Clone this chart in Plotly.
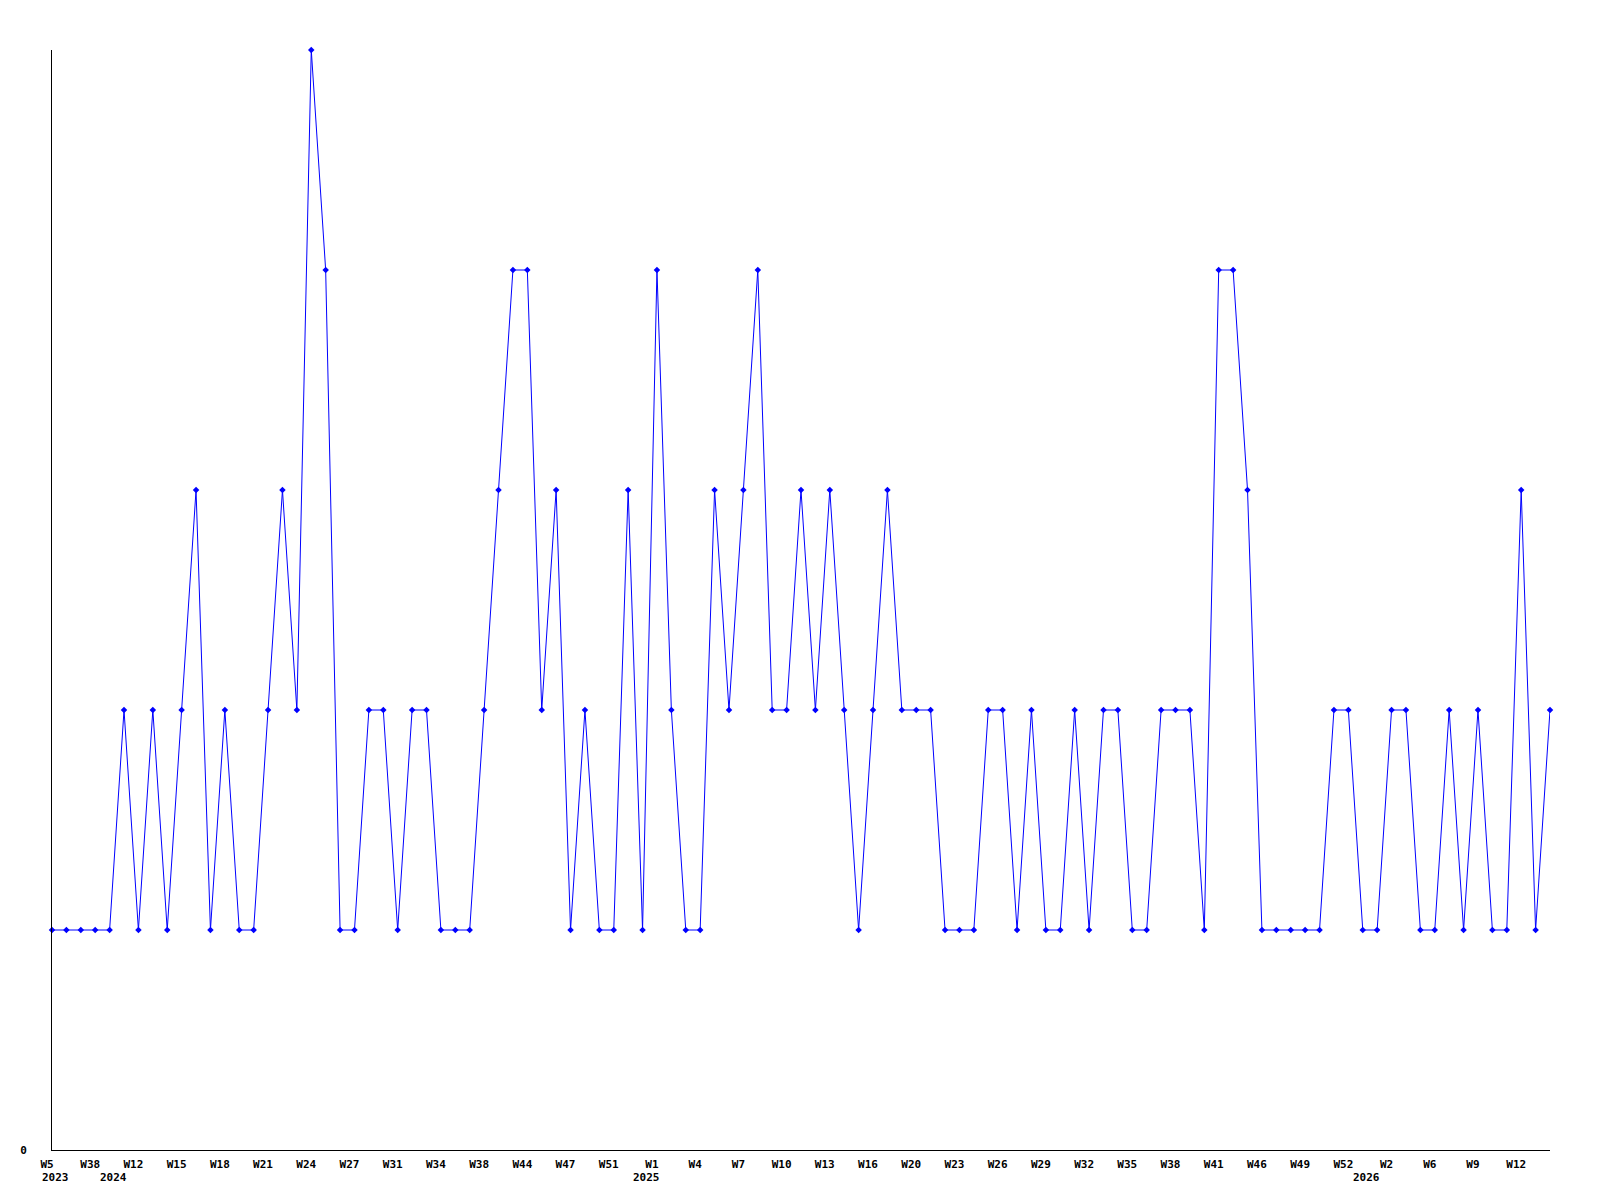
import plotly.graph_objects as go

values = [1, 1, 1, 1, 1, 2, 1, 2, 1, 2,
          3, 1, 2, 1, 1, 2, 3, 2, 5, 4,
          1, 1, 2, 2, 1, 2, 2, 1, 1, 1,
          2, 3, 4, 4, 2, 3, 1, 2, 1, 1,
          3, 1, 4, 2, 1, 1, 3, 2, 3, 4,
          2, 2, 3, 2, 3, 2, 1, 2, 3, 2,
          2, 2, 1, 1, 1, 2, 2, 1, 2, 1,
          1, 2, 1, 2, 2, 1, 1, 2, 2, 2,
          1, 4, 4, 3, 1, 1, 1, 1, 1, 2,
          2, 1, 1, 2, 2, 1, 1, 2, 1, 2,
          1, 1, 3, 1, 2]

tick_idx = [0, 3, 6, 9, 12, 15, 18, 21, 24, 27, 30, 33, 36, 39, 42, 45, 48,
            51, 54, 57, 60, 63, 66, 69, 72, 75, 78, 81, 84, 87, 90, 93, 96, 99, 102]
tick_text = ["W5", "W38", "W12", "W15", "W18", "W21", "W24", "W27", "W31", "W34",
             "W38", "W44", "W47", "W51", "W1", "W4", "W7", "W10", "W13", "W16",
             "W20", "W23", "W26", "W29", "W32", "W35", "W38", "W41", "W46", "W49",
             "W52", "W2", "W6", "W9", "W12"]

year_idx = [0, 4, 41, 91]
year_text = ["2023", "2024", "2025", "2026"]

x = list(range(len(values)))
FONT = "DejaVu Sans Mono"

fig = go.Figure()
fig.add_trace(go.Scatter(
    x=x, y=values, mode="lines+markers",
    line=dict(color="#0000ff", width=1),
    marker=dict(symbol="diamond", size=5, color="#0000ff"),
    cliponaxis=False, showlegend=False,
))

annotations = []
for xi, t in zip(year_idx, year_text):
    annotations.append(dict(
        x=xi, y=0, xref="x", yref="paper", text="<b>%s</b>" % t,
        showarrow=False, xanchor="left", yanchor="middle",
        xshift=-12, yshift=-27,
        font=dict(family=FONT, size=11, color="black"),
    ))

fig.update_layout(
    width=1600, height=1200,
    margin=dict(l=42, r=58, t=42, b=58),
    paper_bgcolor="white", plot_bgcolor="white",
    annotations=annotations,
    font=dict(family=FONT, size=11, color="black"),
)
fig.update_xaxes(
    range=[0, len(values) - 1], showgrid=False, zeroline=False,
    showline=True, linecolor="black", linewidth=1,
    tickmode="array", tickvals=tick_idx,
    ticktext=["<b>%s</b>" % t for t in tick_text],
    ticks="", ticklabelstandoff=4, ticklabelshift=-5,
    tickfont=dict(family=FONT, size=11, color="black"),
)
fig.update_yaxes(
    range=[0, 5], showgrid=False, zeroline=False,
    showline=True, linecolor="black", linewidth=1,
    tickmode="array", tickvals=[0], ticktext=["<b>0</b>"],
    ticks="", ticklabelstandoff=22,
    tickfont=dict(family=FONT, size=11, color="black"),
)

fig.write_html("out.html")
